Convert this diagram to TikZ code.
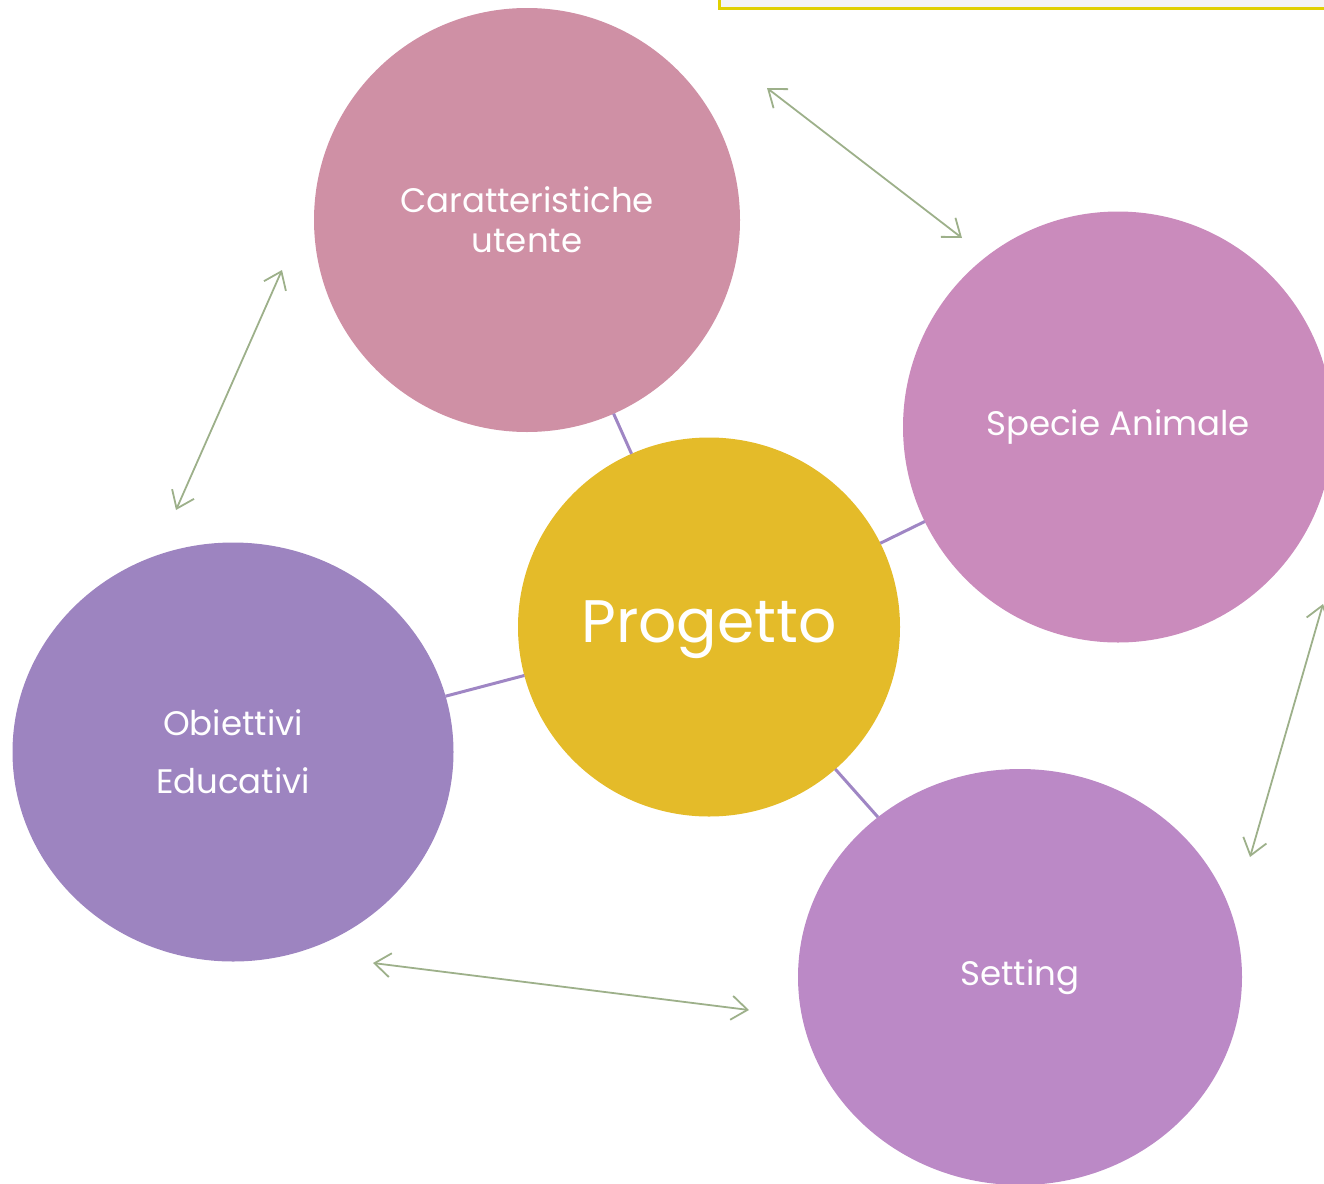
\documentclass[tikz,border=0pt]{standalone}
\usepackage{fontspec}
\setmainfont{Poppins}
\usetikzlibrary{arrows.meta,shapes.geometric}
\definecolor{cCar}{HTML}{CF90A5}
\definecolor{cSpec}{HTML}{CA8BBC}
\definecolor{cProg}{HTML}{E4BB29}
\definecolor{cObi}{HTML}{9D84C0}
\definecolor{cSet}{HTML}{BB89C6}
\definecolor{cLink}{HTML}{9F86C4}
\definecolor{cArr}{HTML}{9DB08A}
\definecolor{cBoxLine}{HTML}{E0D000}
\definecolor{cBoxFill}{HTML}{F4F4F4}
\begin{document}
\begin{tikzpicture}[x=1pt,y=-1pt,
  bubble/.style={ellipse, inner sep=0pt, outer sep=0pt, text=white, align=center,
    font=\fontsize{34}{40}\selectfont},
  link/.style={draw=cLink, line width=3pt},
  garrow/.style={draw=cArr, line width=1.8pt,
    {Straight Barb[length=16pt,width=24pt,line width=1.8pt]}-{Straight Barb[length=16pt,width=24pt,line width=1.8pt]}},
  topbox/.style={draw=cBoxLine, fill=cBoxFill, line width=3pt}
]
\useasboundingbox (0,0) rectangle (1324,1183);
\path[topbox] (719,-20) rectangle (1340,8.5);
\node[bubble, fill=cCar, minimum width=426pt, minimum height=424pt] (car) at (527,220) {Caratteristiche\\utente};
\node[bubble, fill=cSpec, minimum width=430pt, minimum height=431pt] (spec) at (1118,427) {Specie Animale};
\node[bubble, fill=cProg, minimum width=382pt, minimum height=379pt] (prog) at (709,627) {};
\node[text=white, font=\fontsize{60}{70}\selectfont, inner sep=0pt] (progtxt) at (709,630) {Progetto};
\node[bubble, fill=cObi, minimum width=441pt, minimum height=419pt,
  font=\fontsize{34}{58}\selectfont] (obi) at (233,752) {Obiettivi\\Educativi};
\node[bubble, fill=cSet, minimum width=444pt, minimum height=416pt] (set) at (1020,977) {Setting};
\draw[link] (car) -- (prog);
\draw[link] (spec) -- (prog);
\draw[link] (obi) -- (prog);
\draw[link] (set) -- (prog);
\coordinate (a1) at (767,88);
\coordinate (a2) at (962,238);
\coordinate (b1) at (282,270);
\coordinate (b2) at (176,510);
\coordinate (c1) at (1323,604);
\coordinate (c2) at (1250,857);
\coordinate (d1) at (373,963);
\coordinate (d2) at (749,1010);
\draw[garrow] (a1) -- (a2);
\draw[garrow] (b1) -- (b2);
\draw[garrow] (c1) -- (c2);
\draw[garrow] (d1) -- (d2);
\end{tikzpicture}
\end{document}
